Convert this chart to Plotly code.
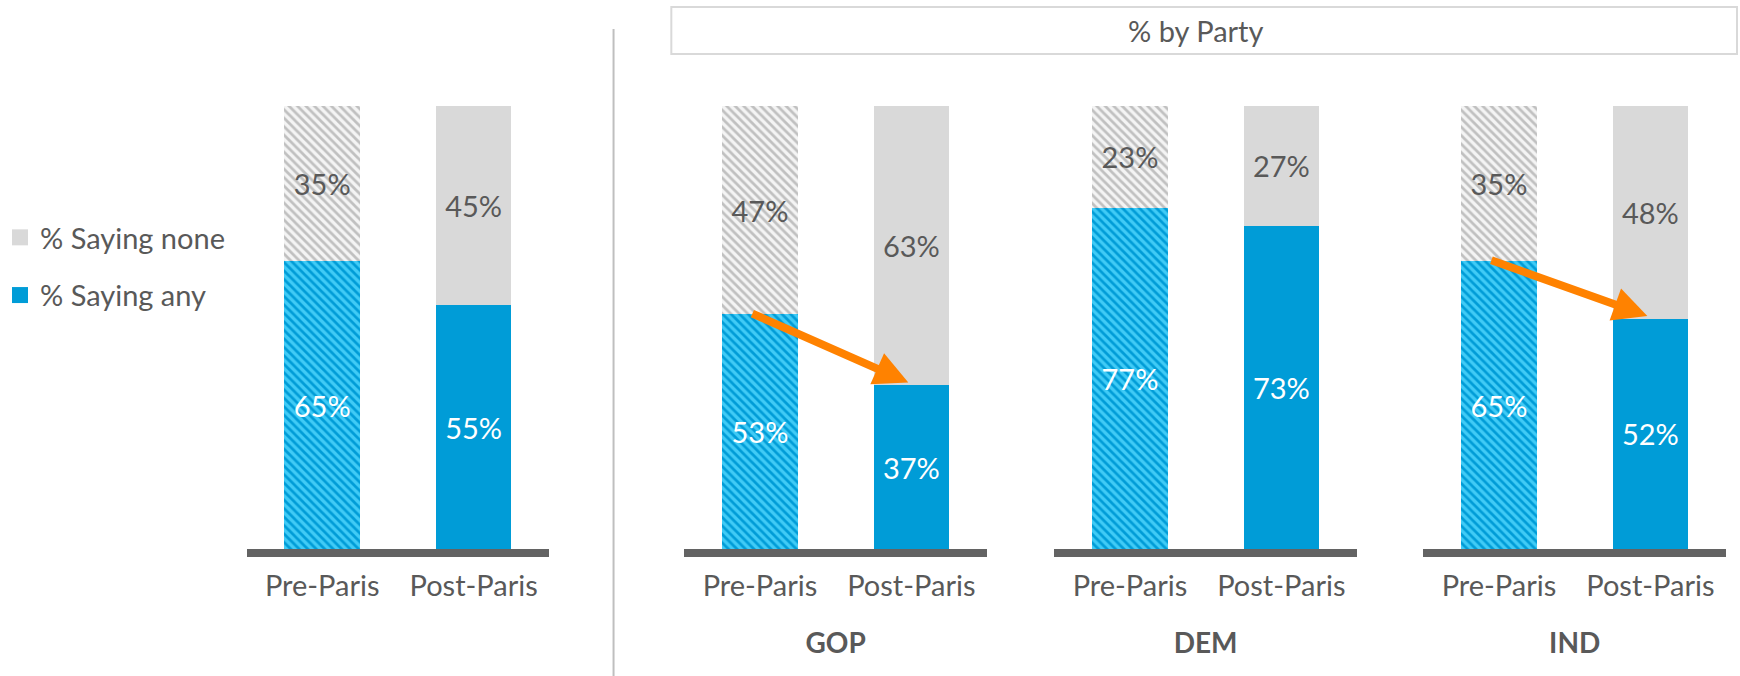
import plotly.graph_objects as go

# ---------------- data ----------------
categories = ["Pre-Paris", "Post-Paris"]
panels = ["All", "GOP", "DEM", "IND"]
panel_titles = ["", "GOP", "DEM", "IND"]
saying_any = {"All": [65, 55], "GOP": [53, 37], "DEM": [77, 73], "IND": [65, 52]}
saying_none = {"All": [35, 45], "GOP": [47, 63], "DEM": [23, 27], "IND": [35, 48]}
arrow_panels = ["GOP", "IND"]
header_text = "% by Party"
legend_names = ["% Saying none", "% Saying any"]

# ---------------- style ----------------
W, H = 1740, 676
FONT = "Lato"
TXT = "#595959"
BLUE = "#009CD7"
BLUE_LIGHT = "#40CBF6"
GREY = "#D9D9D9"
GREY_LIGHT = "#F4F4F4"
GREY_STRIPE = "#C0C0C0"
ORANGE = "#FF8200"
FS = 29


def px_x(p):
    return p / W


def px_y(p):
    return (H - p) / H


# x-domain start/end in pixels for each panel
x_domains_px = [(240.5, 544.5), (680, 984), (1051.5, 1355.5), (1422, 1726)]
y_domain = [px_y(549), px_y(106)]

# per-series styles: (solid color, hatch background, hatch stripe, text color)
series = [
    (legend_names[1], saying_any, BLUE, BLUE_LIGHT, BLUE, "white"),
    (legend_names[0], saying_none, GREY, GREY_LIGHT, GREY_STRIPE, TXT),
]

fig = go.Figure()

for i, p in enumerate(panels):
    sfx = "" if i == 0 else str(i + 1)
    xa, ya = "x" + sfx, "y" + sfx
    for name, data, solid, hbg, hfg, tcol in series:
        for j, cat in enumerate(categories):
            hatched = (j == 0)
            marker = dict(color=hbg if hatched else solid, line=dict(width=0))
            if hatched:
                marker["pattern"] = dict(shape="\\", fillmode="replace",
                                         bgcolor=hbg, fgcolor=hfg, fgopacity=1,
                                         size=6, solidity=0.45)
            fig.add_trace(go.Bar(
                x=[cat], y=[data[p][j]], xaxis=xa, yaxis=ya,
                name=name, showlegend=False,
                text=[f"{data[p][j]}%"],
                textposition="inside", insidetextanchor="middle",
                constraintext="none",
                textfont=dict(family=FONT, size=FS, color=tcol),
                marker=marker, width=0.5, hoverinfo="skip",
            ))

    x0, x1 = x_domains_px[i]
    xaxis = dict(domain=[px_x(x0), px_x(x1)], anchor=ya, type="category",
                 categoryorder="array", categoryarray=categories,
                 range=[-0.5, 1.5], showgrid=False, zeroline=False,
                 showline=True, linecolor="#636363", linewidth=8,
                 ticks="", tickfont=dict(family=FONT, size=FS, color=TXT),
                 ticklabelstandoff=4, fixedrange=True,
                 title=dict(text=f"<b>{panel_titles[i]}</b>" if panel_titles[i] else "",
                            font=dict(family=FONT, size=FS - 1, color=TXT), standoff=36))
    yaxis = dict(domain=y_domain, anchor=xa, range=[0, 100], visible=False,
                 fixedrange=True)
    fig.layout["xaxis" + sfx] = xaxis
    fig.layout["yaxis" + sfx] = yaxis

    if p in arrow_panels:
        fig.add_annotation(
            xref=xa, yref=ya, axref=xa, ayref=ya,
            x=0.98, y=saying_any[p][1] + 0.6,
            ax=-0.06, ay=saying_any[p][0] + 0.3,
            showarrow=True, arrowhead=2, arrowsize=0.85, arrowwidth=8,
            arrowcolor=ORANGE, standoff=0, startstandoff=0, text="",
        )

# legend entries (square markers)
for name, col in zip(legend_names, [GREY, BLUE]):
    fig.add_trace(go.Scatter(x=[None], y=[None], mode="markers", name=name,
                             legendgroup=name,
                             marker=dict(symbol="square", size=18, color=col),
                             showlegend=True, hoverinfo="skip"))

# header box
fig.add_shape(type="rect", xref="paper", yref="paper",
              x0=px_x(667), x1=px_x(1737), y0=px_y(54), y1=px_y(7),
              line=dict(color="#D9D9D9", width=2), fillcolor="white")
fig.add_annotation(xref="paper", yref="paper", x=px_x(1194), y=px_y(31),
                   text=header_text, showarrow=False,
                   font=dict(family=FONT, size=FS, color=TXT),
                   xanchor="center", yanchor="middle")
# divider line
fig.add_shape(type="line", xref="paper", yref="paper",
              x0=px_x(609), x1=px_x(609), y0=0, y1=px_y(29),
              line=dict(color="#BFBFBF", width=2))

fig.update_layout(
    width=W, height=H, margin=dict(l=0, r=0, t=0, b=0),
    barmode="stack", paper_bgcolor="white", plot_bgcolor="white",
    uniformtext=dict(minsize=FS, mode="show"),
    showlegend=True,
    legend=dict(x=px_x(-7.5), xanchor="left", y=px_y(212), yanchor="top",
                font=dict(family=FONT, size=FS, color=TXT),
                traceorder="grouped", tracegroupgap=17,
                bgcolor="rgba(0,0,0,0)", itemclick=False, itemdoubleclick=False),
    font=dict(family=FONT, color=TXT),
)

fig.write_html("out.html", config={"displayModeBar": False},
               post_script="document.body.style.margin='0';document.body.style.padding='0';")
